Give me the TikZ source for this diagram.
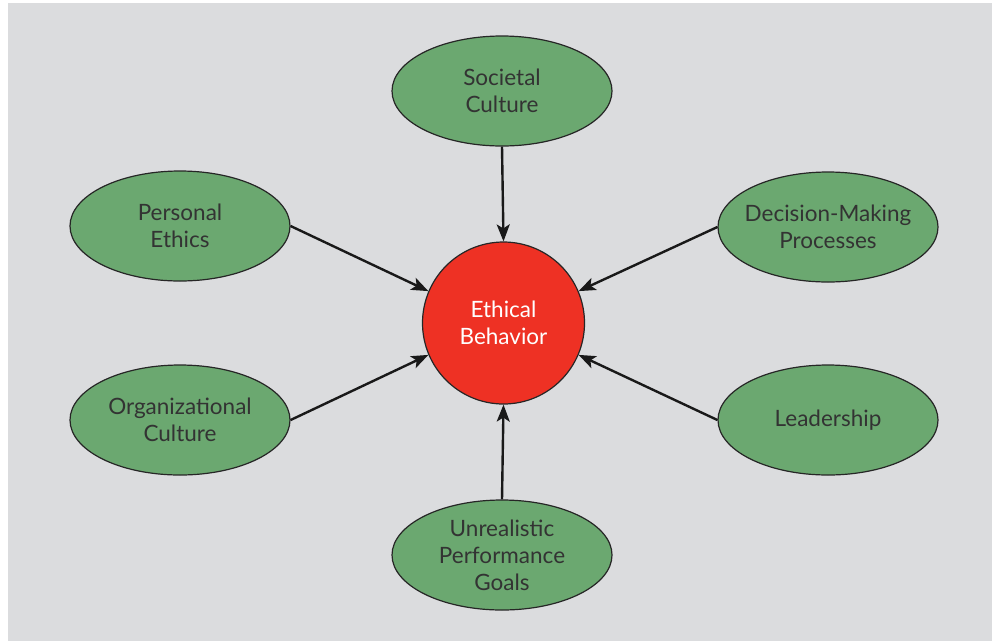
\documentclass[tikz,border=0pt]{standalone}
\usepackage{fontspec}
\setmainfont{Lato}
\usetikzlibrary{shapes.geometric,arrows.meta}
\definecolor{bggray}{HTML}{DBDCDE}
\definecolor{nodegreen}{HTML}{6BA870}
\definecolor{centerred}{HTML}{EE3124}
\definecolor{txtgray}{HTML}{333333}
\tikzset{
  factor/.style={ellipse, draw=black!85, line width=1.2pt, fill=nodegreen,
    minimum width=220pt, minimum height=110pt, inner xsep=-15pt, inner ysep=-8pt,
    text=txtgray, align=center, font=\fontsize{22.5}{27}\selectfont},
  core/.style={circle, draw=black!85, line width=1.2pt, fill=centerred,
    minimum size=162pt, inner sep=0pt, text=white, align=center,
    font=\fontsize{22.5}{27}\selectfont},
  link/.style={draw=black!90, line width=2.4pt,
    -{Stealth[length=17pt,width=13pt,inset=4pt]}}
}
\begin{document}
\begin{tikzpicture}[x=1pt,y=-1pt]
\useasboundingbox (0,0) rectangle (992,641);
\fill[bggray] (8,3) rectangle (992,641);
\node[core] (eb) at (503.5,323) {Ethical\\Behavior};
\node[factor] (sc) at (502,91) {Societal\\Culture};
\node[factor] (pe) at (180,226) {Personal\\Ethics};
\node[factor] (dm) at (828,227) {Decision-Making\\Processes};
\node[factor] (oc) at (180,420) {Organizational\\Culture};
\node[factor] (ld) at (828,420) {Leadership};
\node[factor] (ug) at (502,555) {Unrealistic\\Performance\\Goals};
\draw[link] (sc.south) -- (eb.north);
\draw[link] (ug.north) -- (eb.south);
\draw[link] (pe.east) -- (eb.157);
\draw[link] (dm.west) -- (eb.23);
\draw[link] (oc.east) -- (eb.203);
\draw[link] (ld.west) -- (eb.-23);
\end{tikzpicture}
\end{document}
